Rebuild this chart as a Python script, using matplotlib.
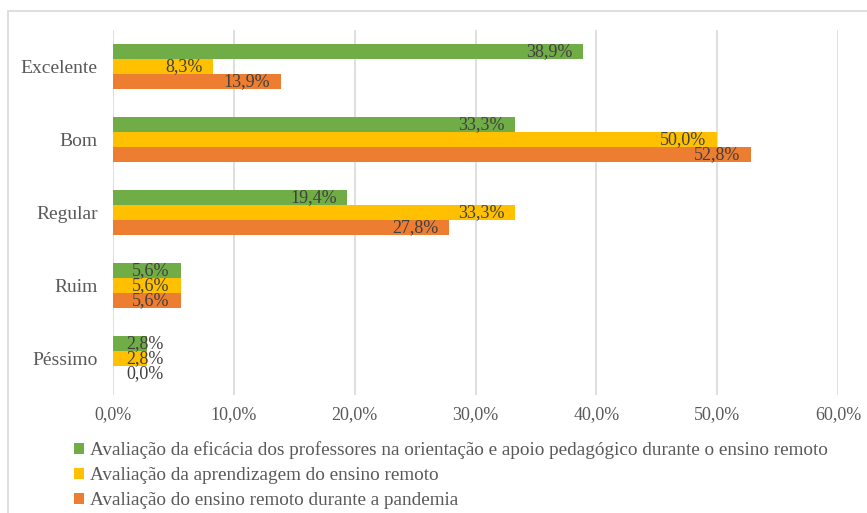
import matplotlib.pyplot as plt
from matplotlib.patches import Rectangle
import numpy as np

categorias = ['Excelente', 'Bom', 'Regular', 'Ruim', 'Péssimo']
series = [
    'Avaliação da eficácia dos professores na orientação e apoio pedagógico durante o ensino remoto',
    'Avaliação da aprendizagem do ensino remoto',
    'Avaliação do ensino remoto durante a pandemia',
]
eficacia = [38.9, 33.3, 19.4, 5.6, 2.8]
aprendizagem = [8.3, 50.0, 33.3, 5.6, 2.8]
pandemia = [13.9, 52.8, 27.8, 5.6, 0.0]
cores = ['#70AD47', '#FFC000', '#ED7D31']

plt.rcParams['font.family'] = ['Liberation Serif', 'DejaVu Serif']

fig = plt.figure(figsize=(8.67, 5.13), dpi=100)
ax = fig.add_axes([0.1303, 0.230, 0.8363, 0.7115])

# moldura do gráfico (cortada na imagem original)
fig.patches.append(Rectangle((8 / 867, -0.1), 2, 502 / 513 + 0.1,
                             transform=fig.transFigure, fill=False,
                             edgecolor='#D9D9D9', linewidth=1.2))

y = np.arange(len(categorias))
h = 0.205
for i, (vals, cor, nome) in enumerate(zip([eficacia, aprendizagem, pandemia], cores, series)):
    pos = y + (i - 1) * h
    ax.barh(pos, vals, height=h, color=cor, label=nome)
    for p, v in zip(pos, vals):
        xr = max(v - 0.9, 4.2)
        ax.text(xr, p, f'{v:.1f}%'.replace('.', ','), ha='right', va='center',
                fontsize=13, color='#404040')

ax.set_xlim(0, 60)
ax.set_ylim(len(categorias) - 0.5, -0.5)
ax.set_yticks(y)
ax.set_yticklabels(categorias, fontsize=14, color='#595959')
ax.set_xticks(np.arange(0, 61, 10))
ax.set_xticklabels([f'{t:.1f}%'.replace('.', ',') for t in np.arange(0, 61, 10)],
                   fontsize=13, color='#595959')
ax.tick_params(length=0, pad=11)
ax.tick_params(axis='x', pad=8)
ax.grid(axis='x', color='#D9D9D9', linewidth=1.2)
ax.set_axisbelow(True)
for s in ax.spines.values():
    s.set_visible(False)

ax.legend(loc='upper left', bbox_to_anchor=(-0.065, -0.106), frameon=False,
          fontsize=13.8, labelcolor='#595959', handlelength=0.55, handleheight=0.55,
          handletextpad=0.3, labelspacing=0.42, borderaxespad=0)

fig.savefig('out.png', dpi=100)
